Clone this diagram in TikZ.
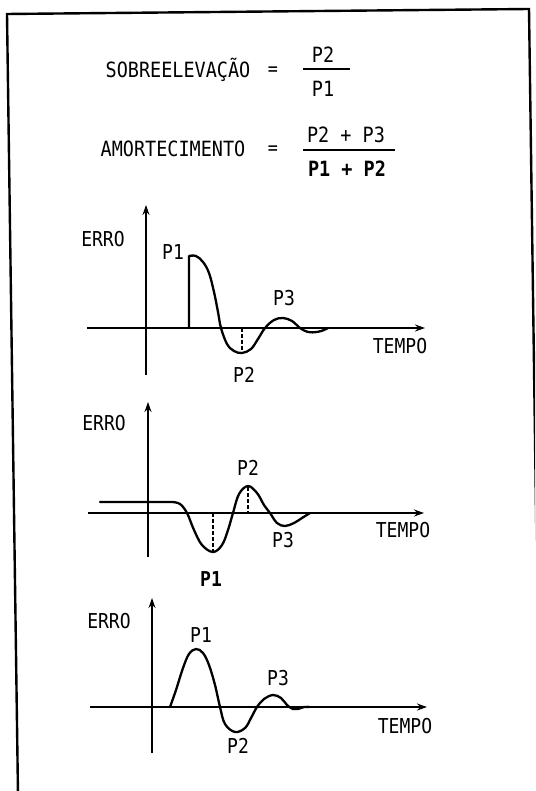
\documentclass[tikz,border=0pt]{standalone}
\usepackage{fontspec}
\setmainfont{DejaVu Sans Mono}[FakeStretch=0.88]
\usetikzlibrary{arrows.meta}
\tikzset{
  lbl/.style={inner sep=0pt, anchor=base, font=\fontsize{20.5}{22}\selectfont},
  hdr/.style={inner sep=0pt, anchor=base, font=\fontsize{21}{23}\selectfont},
  axis/.style={line width=2.8pt, -{Stealth[length=10pt,width=7pt]}},
  curve/.style={line width=2.3pt, line join=round, line cap=round},
  dsh/.style={line width=1.4pt, dash pattern=on 3.5pt off 2.5pt},
  frame/.style={line width=2.4pt},
  fracline/.style={line width=1.6pt}
}
\begin{document}
\begin{tikzpicture}[x=1pt,y=-1pt]
\useasboundingbox (0,0) rectangle (535,791);
\clip (0,0) rectangle (535,791);
% frame (slightly skewed as in the scan)
\coordinate (fbl) at (18,795);
\coordinate (ftl) at (7,14);
\coordinate (ftr) at (529,9);
\coordinate (fbr) at (540,795);
\draw[frame] (fbl) -- (ftl) -- (ftr) -- (fbr);

% header formulas
\node[hdr] (sobre) at (178,78) {SOBREELEVAÇÃO};
\node[inner sep=0pt, font=\fontsize{19}{21}\selectfont] (eq1) at (273,71) {=};
\node[hdr] (n1) at (323,63) {P2};
\node[hdr] (d1) at (323,97) {P1};
\coordinate (f1a) at (303,69);
\coordinate (f1b) at (350,69);
\draw[fracline] (f1a) -- (f1b);

\node[hdr] (amort) at (173,157) {AMORTECIMENTO};
\node[inner sep=0pt, font=\fontsize{19}{21}\selectfont] (eq2) at (273,150) {=};
\node[hdr] (n2) at (346,143) {P2 + P3};
\node[hdr, font=\fontsize{21}{23}\selectfont\bfseries] (d2) at (347,177) {P1 + P2};
\coordinate (f2a) at (303,150);
\coordinate (f2b) at (395,150);
\draw[fracline] (f2a) -- (f2b);

% ---------- graph 1 ----------
\coordinate (g1yb) at (146,375);
\coordinate (g1yt) at (146,205);
\coordinate (g1xl) at (87,328);
\coordinate (g1xr) at (425,328);
\draw[axis] (g1yb) -- (g1yt);
\draw[axis] (g1xl) -- (g1xr);
\node[lbl] (e1) at (103,247) {ERRO};
\node[lbl] (t1) at (400,353) {TEMPO};
\node[lbl] (g1p1) at (173,260) {P1};
\node[lbl] (g1p2) at (244,382) {P2};
\node[lbl] (g1p3) at (284,305) {P3};
\draw[curve] (189,328) -- (189,256) plot[smooth, tension=0.6] coordinates {
  (189,256) (196,256) (203,262) (209,273) (214,292) (218,312) (221,328)
  (227,344) (234,351) (242,353) (251,349) (258,339) (265,328)
  (274,320) (283,318) (292,321) (300,328) (308,332) (317,332) (324,330) (328,328)};
\coordinate (g1d1) at (242,328);
\coordinate (g1d2) at (242,352);
\draw[dsh] (g1d1) -- (g1d2);

% ---------- graph 2 ----------
\coordinate (g2yb) at (148,557);
\coordinate (g2yt) at (148,402);
\coordinate (g2xl) at (88,513);
\coordinate (g2xr) at (424,513);
\draw[axis] (g2yb) -- (g2yt);
\draw[axis] (g2xl) -- (g2xr);
\node[lbl] (e2) at (104,430) {ERRO};
\node[lbl] (t2) at (403,537) {TEMPO};
\node[lbl, font=\fontsize{20.5}{22}\selectfont\bfseries] (g2p1) at (211,586) {P1};
\node[lbl] (g2p2) at (248,475) {P2};
\node[lbl] (g2p3) at (283,547) {P3};
\draw[curve] (100,502) -- (172,502) plot[smooth, tension=0.6] coordinates {
  (172,502) (180,504) (187,513) (194,530) (202,545) (213,552) (222,545)
  (228,530) (233,513) (239,494) (248,486) (257,493) (264,505) (270,513)
  (277,523) (285,526) (294,523) (302,518) (310,513)};
\coordinate (g2d1) at (213,513);
\coordinate (g2d2) at (213,551);
\draw[dsh] (g2d1) -- (g2d2);
\coordinate (g2d3) at (248,487);
\coordinate (g2d4) at (248,513);
\draw[dsh] (g2d3) -- (g2d4);

% ---------- graph 3 ----------
\coordinate (g3yb) at (152,753);
\coordinate (g3yt) at (152,598);
\coordinate (g3xl) at (90,707);
\coordinate (g3xr) at (427,707);
\draw[axis] (g3yb) -- (g3yt);
\draw[axis] (g3xl) -- (g3xr);
\node[lbl] (e3) at (109,628) {ERRO};
\node[lbl] (t3) at (405,733) {TEMPO};
\node[lbl] (g3p1) at (201,642) {P1};
\node[lbl] (g3p2) at (238,753) {P2};
\node[lbl] (g3p3) at (278,685) {P3};
\draw[curve] plot[smooth, tension=0.6] coordinates {
  (170,707) (176,690) (183,668) (189,654) (196,649) (203,653) (209,665)
  (215,685) (220,707) (225,724) (235,732) (245,728) (251,718) (257,707)
  (264,699) (273,695) (281,698) (287,705) (293,709) (298,709) (304,707) (310,707)};
\end{tikzpicture}
\end{document}
